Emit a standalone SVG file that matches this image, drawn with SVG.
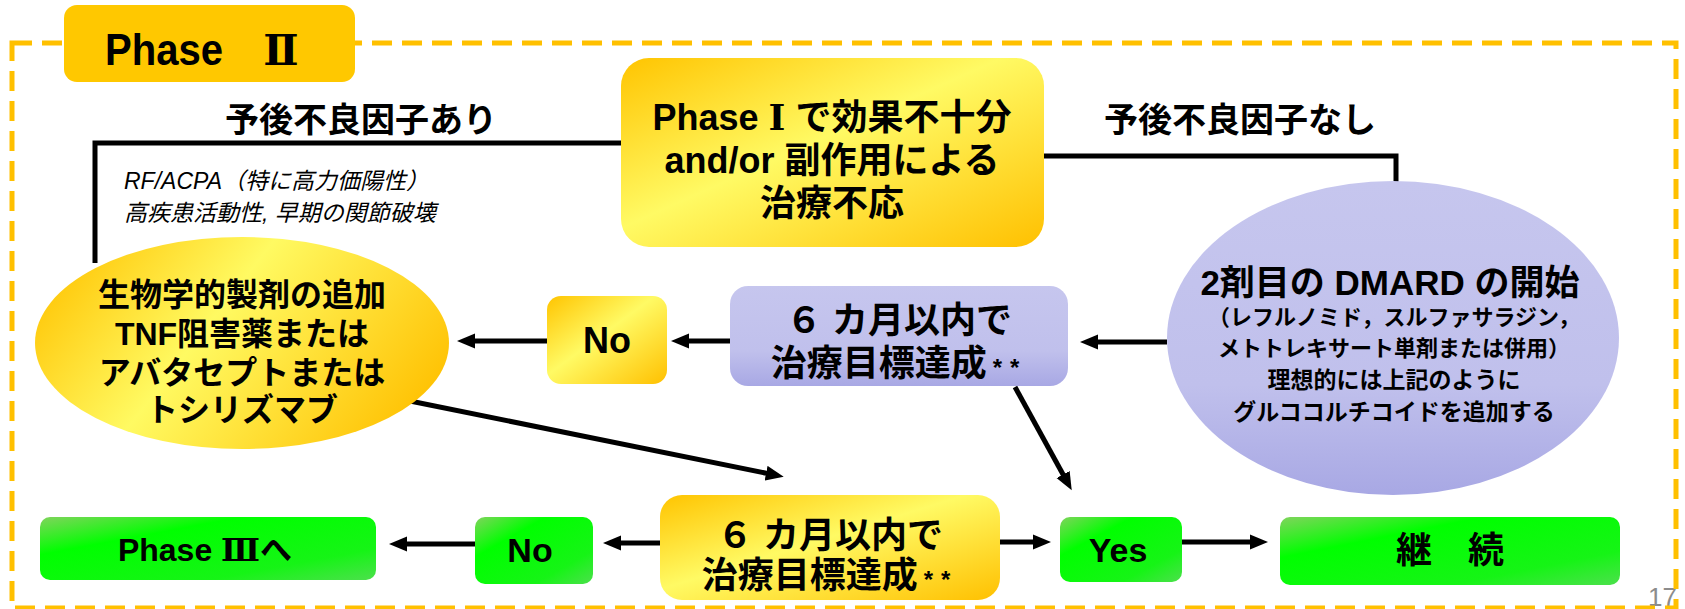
<svg xmlns="http://www.w3.org/2000/svg" width="1685" height="609" viewBox="0 0 1685 609">
<defs>
<style>
.t{font-family:"Liberation Sans","Noto Sans CJK JP",sans-serif;font-weight:bold;fill:#000;}
.m{text-anchor:middle;}
.rn{font-family:"DejaVu Serif","Noto Sans CJK JP",serif;}
.ast{font-size:24px;letter-spacing:8px;}
.it{font-family:"Liberation Sans","Noto Sans CJK JP",sans-serif;font-style:italic;font-weight:normal;fill:#000;}
.ln{fill:none;stroke:#000;stroke-width:5;}
.ar{fill:none;stroke:#000;stroke-width:5;marker-end:url(#ah);}
.gold{fill:url(#gGold);}
.green{fill:url(#gGreen);}
</style>
<linearGradient id="gGold" x1="0" y1="0" x2="1" y2="1">
<stop offset="0" stop-color="#FFC400"/>
<stop offset="0.45" stop-color="#FFFA64"/>
<stop offset="1" stop-color="#FFC000"/>
</linearGradient>
<linearGradient id="gGoldE" x1="0" y1="0.3" x2="1" y2="0.7">
<stop offset="0" stop-color="#FFC80A"/>
<stop offset="0.4" stop-color="#FFFA62"/>
<stop offset="1" stop-color="#FFC000"/>
</linearGradient>
<linearGradient id="gGreen" x1="0" y1="0" x2="1" y2="1">
<stop offset="0" stop-color="#80D45C"/>
<stop offset="0.3" stop-color="#00FF00"/>
<stop offset="0.75" stop-color="#16F416"/>
<stop offset="1" stop-color="#4CE04C"/>
</linearGradient>
<linearGradient id="gPurple" x1="0" y1="0" x2="0" y2="1">
<stop offset="0" stop-color="#C6C6EE"/>
<stop offset="0.65" stop-color="#C0C0EC"/>
<stop offset="1" stop-color="#A8A8E4"/>
</linearGradient>
<marker id="ah" markerUnits="userSpaceOnUse" markerWidth="20" markerHeight="16" refX="4" refY="8" orient="auto">
<path d="M0,0.5 L18,8 L0,15.5 z" fill="#000"/>
</marker>
</defs>

<rect width="1685" height="609" fill="#FFFFFF"/>

<text class="t" x="1648" y="606" style="font-weight:normal;fill:#8C8C8C;font-size:26px">17</text>

<g id="frame">
<rect x="12" y="43" width="1664" height="565" fill="none" stroke="#FFC000" stroke-width="5" stroke-dasharray="20 10"/>
</g>

<g id="phase2-tab">
<rect x="64" y="5" width="291" height="77" rx="13" fill="#FFC800"/>
<text class="t" x="105" y="65" style="font-size:44px" textLength="118" lengthAdjust="spacingAndGlyphs">Phase</text>
<text class="t rn" x="281" y="65" text-anchor="middle" style="font-size:42px">Ⅱ</text>
</g>

<g id="connectors">
<path class="ln" d="M95,263 V143 H621"/>
<path class="ln" d="M1044,156 H1396 V182"/>
<line class="ar" x1="547" y1="341" x2="471" y2="341"/>
<line class="ar" x1="730" y1="341" x2="685" y2="341"/>
<line class="ar" x1="1167" y1="342" x2="1094" y2="342"/>
<line class="ar" x1="1015" y1="387" x2="1065" y2="478"/>
<line class="ar" x1="410" y1="401" x2="770" y2="474"/>
<line class="ar" x1="660" y1="543" x2="617" y2="543"/>
<line class="ar" x1="475" y1="544" x2="403" y2="544"/>
<line class="ar" x1="1000" y1="542" x2="1037" y2="542"/>
<line class="ar" x1="1182" y1="542" x2="1254" y2="542"/>
</g>

<g id="label-ari">
<text class="t m" x="361" y="132" style="font-size:34px">予後不良因子あり</text>
</g>
<g id="label-nashi">
<text class="t m" x="1240" y="132" style="font-size:34px">予後不良因子なし</text>
</g>
<g id="label-rf">
<text class="it" x="124" y="189" style="font-size:23px">RF/ACPA（特に高力価陽性）</text>
<text class="it" x="124" y="221" style="font-size:23px">高疾患活動性, 早期の関節破壊</text>
</g>

<g id="start">
<rect class="gold" x="621" y="58" width="423" height="189" rx="28"/>
<text class="t m" x="832" y="130" style="font-size:36px">Phase <tspan class="rn">Ⅰ</tspan> で効果不十分</text>
<text class="t m" x="832" y="173" style="font-size:36px">and/or 副作用による</text>
<text class="t m" x="832" y="216" style="font-size:36px">治療不応</text>
</g>

<g id="biologics">
<ellipse cx="242" cy="343" rx="207" ry="106" fill="url(#gGoldE)"/>
<text class="t m" x="242" y="306" style="font-size:32px">生物学的製剤の追加</text>
<text class="t m" x="242" y="345" style="font-size:32px">TNF阻害薬または</text>
<text class="t m" x="242" y="384" style="font-size:32px">アバタセプトまたは</text>
<text class="t m" x="242" y="421" style="font-size:32px">トシリズマブ</text>
</g>

<g id="no-top">
<rect class="gold" x="547" y="296" width="120" height="88" rx="14"/>
<text class="t m" x="607" y="353" style="font-size:36px">No</text>
</g>

<g id="target-top">
<rect x="730" y="286" width="338" height="100" rx="18" fill="url(#gPurple)"/>
<text class="t m" x="899" y="333" style="font-size:36px">６ カ月以内で</text>
<text class="t m" x="899" y="376" style="font-size:36px">治療目標達成<tspan class="ast" dx="6">**</tspan></text>
</g>

<g id="dmard">
<ellipse cx="1393" cy="338" rx="226" ry="157" fill="url(#gPurple)"/>
<text class="t m" x="1390" y="295" style="font-size:35px">2剤目の DMARD の開始</text>
<text class="t m" x="1394" y="325" style="font-size:22px">（レフルノミド，スルファサラジン，</text>
<text class="t m" x="1394" y="356" style="font-size:22px">メトトレキサート単剤または併用）</text>
<text class="t m" x="1394" y="388" style="font-size:23px">理想的には上記のように</text>
<text class="t m" x="1394" y="420" style="font-size:23px">グルココルチコイドを追加する</text>
</g>

<g id="phase3">
<rect class="green" x="40" y="517" width="336" height="63" rx="10"/>
<text class="t m" x="205" y="561" style="font-size:32px">Phase <tspan class="rn">Ⅲ</tspan>へ</text>
</g>

<g id="no-bottom">
<rect class="green" x="475" y="517" width="118" height="67" rx="10"/>
<text class="t m" x="530" y="562" style="font-size:34px">No</text>
</g>

<g id="target-bottom">
<rect class="gold" x="660" y="495" width="340" height="105" rx="22"/>
<text class="t m" x="830" y="548" style="font-size:36px">６ カ月以内で</text>
<text class="t m" x="830" y="588" style="font-size:36px">治療目標達成<tspan class="ast" dx="6">**</tspan></text>
</g>

<g id="yes">
<rect class="green" x="1060" y="517" width="122" height="65" rx="10"/>
<text class="t m" x="1118" y="562" style="font-size:34px">Yes</text>
</g>

<g id="continue">
<rect class="green" x="1280" y="517" width="340" height="68" rx="10"/>
<text class="t m" x="1450" y="563" style="font-size:36px">継　続</text>
</g>
</svg>
